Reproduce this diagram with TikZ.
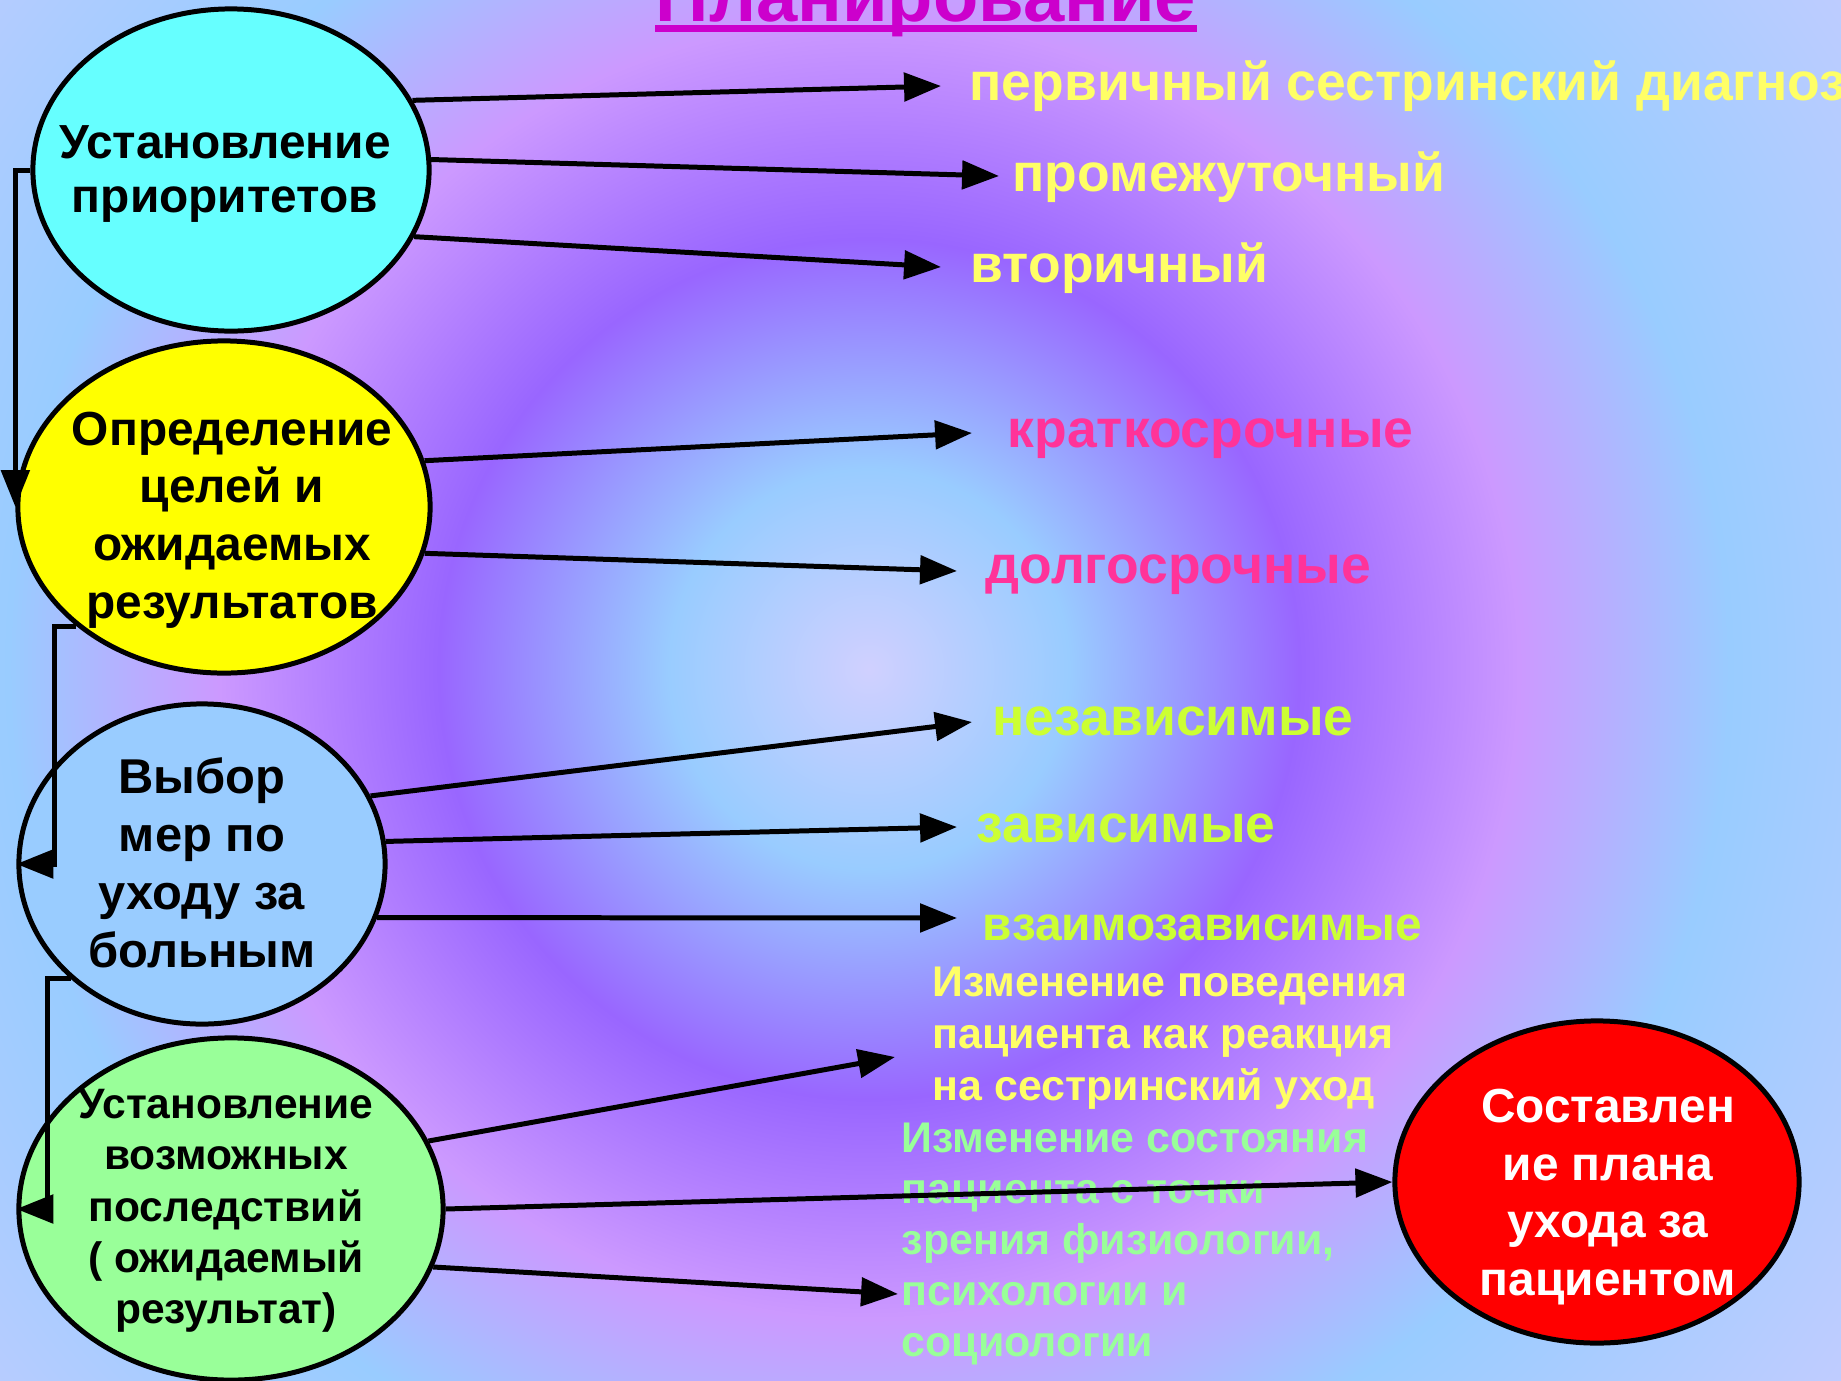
\documentclass[tikz,border=0pt]{standalone}
\usepackage{fontspec}
\setmainfont{Liberation Sans}
\usetikzlibrary{arrows.meta,shapes.geometric}
\definecolor{cyanfill}{HTML}{66FFFF}
\definecolor{yelfill}{HTML}{FFFF00}
\definecolor{bluefill}{HTML}{99CCFF}
\definecolor{greenfill}{HTML}{99FF99}
\definecolor{redfill}{HTML}{FF0000}
\definecolor{titlemag}{HTML}{CC00CC}
\definecolor{lblyel}{HTML}{FFFF66}
\definecolor{lblpink}{HTML}{FF3399}
\definecolor{lbllime}{HTML}{CCFF33}
\definecolor{lblgreen}{HTML}{99FF99}
\definecolor{bgA}{HTML}{D0D0FF}
\definecolor{bgB}{HTML}{99CCFF}
\definecolor{bgC}{HTML}{9966FF}
\definecolor{bgD}{HTML}{CC99FF}
\definecolor{bgE}{HTML}{99CCFF}
\definecolor{bgF}{HTML}{C4CCFF}
\pgfdeclareradialshading{bgshade}{\pgfpointorigin}{color(0bp)=(bgA); color(5bp)=(bgB); color(10.75bp)=(bgC); color(16.25bp)=(bgD); color(21.5bp)=(bgE); color(31bp)=(bgF)}
\begin{document}
\begin{tikzpicture}[x=0.01cm,y=-0.01cm,
  ell/.style={ellipse, draw=black, line width=1.42pt, inner sep=0pt},
  etxt/.style={inner sep=0pt, align=center, font=\bfseries\fontsize{13.6}{15.6}\selectfont},
  lbl/.style={anchor=base west, inner sep=0pt, font=\bfseries\fontsize{15.2}{17}\selectfont},
  blk/.style={anchor=north west, inner sep=0pt, align=left, font=\bfseries\fontsize{12.2}{14.8}\selectfont},
  arr/.style={line width=1.42pt, -{Triangle[length=10.5pt,width=8pt]}}
]
\useasboundingbox (0,0) rectangle (1841,1381);
\begin{scope}
  \clip (0,0) rectangle (1841,1381);
  \shade[shading=bgshade] (-131,-331) rectangle (1869,1669);
\end{scope}

% title
\node[anchor=base west, inner sep=0pt, text=titlemag, font=\bfseries\fontsize{21.1}{24}\selectfont] (title) at (655,21) {Планирование};
\fill[titlemag] ([yshift=-0.04cm]title.base west) rectangle ([yshift=-0.11cm]title.base east);

% ellipses
\node[ell, fill=cyanfill, minimum width=3.96cm, minimum height=3.22cm] (e1) at (231,170) {};
\node[etxt] (e1t) at (225,174) {Установление\\приоритетов};
\node[ell, fill=yelfill, minimum width=4.12cm, minimum height=3.32cm] (e2) at (224,507) {};
\node[etxt, font=\bfseries\fontsize{13.6}{16.4}\selectfont] (e2t) at (232,520) {Определение\\целей и\\ожидаемых\\результатов};
\node[ell, fill=bluefill, minimum width=3.66cm, minimum height=3.20cm] (e3) at (202,864) {};
\node[etxt, font=\bfseries\fontsize{13.9}{16.5}\selectfont] (e3t) at (202,863) {Выбор\\мер по\\уходу за\\больным};
\node[ell, fill=greenfill, minimum width=4.24cm, minimum height=3.42cm] (e4) at (231,1209) {};
\node[etxt, font=\bfseries\fontsize{12.1}{14.6}\selectfont] (e4t) at (226,1211) {Установление\\возможных\\последствий\\( ожидаемый\\результат)};
\node[ell, fill=redfill, minimum width=4.04cm, minimum height=3.22cm] (e5) at (1597,1182) {};
\node[etxt, text=white, font=\bfseries\fontsize{13.6}{16.4}\selectfont] (e5t) at (1608,1197) {Составлен\\ие плана\\ухода за\\пациентом};

% labels
\node[lbl, text=lblyel] (l1) at (969,100) {первичный сестринский диагноз};
\node[lbl, text=lblyel] (l2) at (1012,191) {промежуточный};
\node[lbl, text=lblyel] (l3) at (970,282) {вторичный};
\node[lbl, text=lblpink] (l4) at (1007,447) {краткосрочные};
\node[lbl, text=lblpink] (l5) at (985,583) {долгосрочные};
\node[lbl, text=lbllime] (l6) at (992,735) {независимые};
\node[lbl, text=lbllime] (l7) at (976,842) {зависимые};
\node[lbl, text=lbllime, font=\bfseries\fontsize{13.6}{16}\selectfont] (l8) at (982,940) {взаимозависимые};
\node[blk, text=lblyel] (b1) at (932,966) {Изменение поведения\\пациента как реакция\\на сестринский уход};
\node[blk, text=lblgreen, font=\bfseries\fontsize{12.2}{14.5}\selectfont] (b2) at (901,1122) {Изменение состояния\\пациента с точки\\зрения физиологии,\\психологии и\\социологии};

% arrow ends
\coordinate (t1) at (941,86);
\coordinate (t2) at (999,176);
\coordinate (t3) at (941,267);
\coordinate (t4) at (972,433);
\coordinate (t5) at (957,571);
\coordinate (t6) at (972,722);
\coordinate (t7) at (957,827);
\coordinate (t8) at (957,918);
\coordinate (t9) at (895,1057);
\coordinate (t11) at (898,1294);

% left flow connectors
\draw[arr] (e1.west) -| (e2.west);
\draw[arr] (e2.south west) -- ++(-22,0) |- (e3.west);
\draw[arr] (e3.south west) -- ++(-23,0) |- (e4.west);

% right arrows
\draw[arr] (e1.21) -- (t1);
\draw[arr] (e1.3) -- (t2);
\draw[arr] (e1.-20) -- (t3);
\draw[arr] (e2.13) -- (t4);
\draw[arr] (e2.-13) -- (t5);
\draw[arr] (e3.22) -- (t6);
\draw[arr] (e3.7) -- (t7);
\draw[arr] (e3.-17) -- (t8);
\draw[arr] (e4.19) -- (t9);
\draw[arr] (e4.east) -- (e5.west);
\draw[arr] (e4.-16) -- (t11);
\end{tikzpicture}
\end{document}
